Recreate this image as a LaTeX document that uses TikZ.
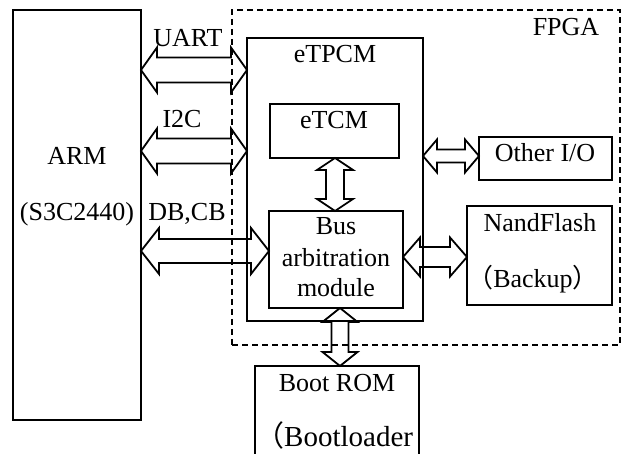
\documentclass[tikz,border=0pt]{standalone}
\usepackage{fontspec}
\setmainfont{Liberation Serif}
\newfontfamily\cjk{Noto Sans CJK SC}
\usetikzlibrary{calc}
\tikzset{
 box/.style={draw, line width=1.8pt, inner sep=0pt, outer sep=0pt, rectangle},
 fpgabox/.style={box, dash pattern=on 6pt off 4pt},
 lbl/.style={anchor=base, inner sep=0pt, font=\fontsize{26}{30}\selectfont},
 arr/.style={draw, line width=1.8pt, line join=miter},
}
% horizontal double arrow: left anchor, right anchor, y, shaft half, head half, head length
\newcommand\hdbl[6]{\draw[arr] let \p1=(#1), \p2=(#2), \p3=(0,#3) in
 (\x1,\y3) -- (\x1+#6pt,\y3+#5pt) -- (\x1+#6pt,\y3+#4pt) -- (\x2-#6pt,\y3+#4pt) -- (\x2-#6pt,\y3+#5pt) -- (\x2,\y3) -- (\x2-#6pt,\y3-#5pt) -- (\x2-#6pt,\y3-#4pt) -- (\x1+#6pt,\y3-#4pt) -- (\x1+#6pt,\y3-#5pt) -- cycle;}
% vertical double arrow: top anchor, bottom anchor, x, shaft half, head half, head length
\newcommand\vdbl[6]{\draw[arr] let \p1=(#1), \p2=(#2), \p3=(#3,0) in
 (\x3,\y1) -- (\x3+#5pt,\y1-#6pt) -- (\x3+#4pt,\y1-#6pt) -- (\x3+#4pt,\y2+#6pt) -- (\x3+#5pt,\y2+#6pt) -- (\x3,\y2) -- (\x3-#5pt,\y2+#6pt) -- (\x3-#4pt,\y2+#6pt) -- (\x3-#4pt,\y1-#6pt) -- (\x3-#5pt,\y1-#6pt) -- cycle;}
\begin{document}
\begin{tikzpicture}[x=1pt,y=-1pt]
\useasboundingbox (0,0) rectangle (622,454);
\clip (0,0) rectangle (622,454);
% boxes
\node[box, minimum width=128, minimum height=410] (arm) at (77,215) {};
\node[fpgabox, minimum width=388, minimum height=335] (fpga) at (426,177.5) {};
\node[box, minimum width=176, minimum height=283] (etpcm) at (335,179.5) {};
\node[box, minimum width=129, minimum height=54] (etcm) at (334.5,131) {};
\node[box, minimum width=134, minimum height=97] (bus) at (336,259.5) {};
\node[box, minimum width=133, minimum height=43] (oio) at (545.5,158.5) {};
\node[box, minimum width=145, minimum height=99] (nand) at (539.5,255.5) {};
\node[box, minimum width=164, minimum height=104] (boot) at (337,418) {};
% labels
\node[lbl] (tuart) at (188,47) {UART};
\node[lbl] (tetpcm) at (335,63) {eTPCM};
\node[lbl] (tfpga) at (566,36) {FPGA};
\node[lbl] (ti2c) at (182,128) {I2C};
\node[lbl] (tetcm) at (334,129) {eTCM};
\node[lbl] (tarm) at (77,165) {ARM};
\node[lbl] (ts3c) at (77,221) {(S3C2440)};
\node[lbl] (tdbcb) at (187,221) {DB,CB};
\node[lbl] (toio) at (545,162) {Other I/O};
\node[lbl] (tbus1) at (336,235) {Bus};
\node[lbl] (tbus2) at (336,267) {arbitration};
\node[lbl] (tbus3) at (336,297) {module};
\node[lbl] (tnand1) at (540,232) {NandFlash};
\node[lbl] (tnand2) at (533,288) {{\cjk （}Backup{\cjk ）}};
\node[lbl] (tboot1) at (337,392) {Boot ROM};
\node[lbl, anchor=base west, font=\fontsize{29}{32}\selectfont] (tboot2) at (255,447) {{\cjk （}Bootloader};
% double arrows
\hdbl{arm.east}{etpcm.west}{70}{12.5}{22.5}{16}
\hdbl{arm.east}{etpcm.west}{151}{12.5}{22.5}{16}
\hdbl{arm.east}{bus.west}{251}{12}{23}{18}
\vdbl{etcm.south}{bus.north}{335}{9}{18}{12}
\hdbl{etpcm.east}{oio.west}{156}{6.5}{16.5}{14}
\hdbl{bus.east}{nand.west}{257}{10}{19.5}{17}
\vdbl{bus.south}{boot.north}{340}{8.5}{17.5}{14}
\end{tikzpicture}
\end{document}
